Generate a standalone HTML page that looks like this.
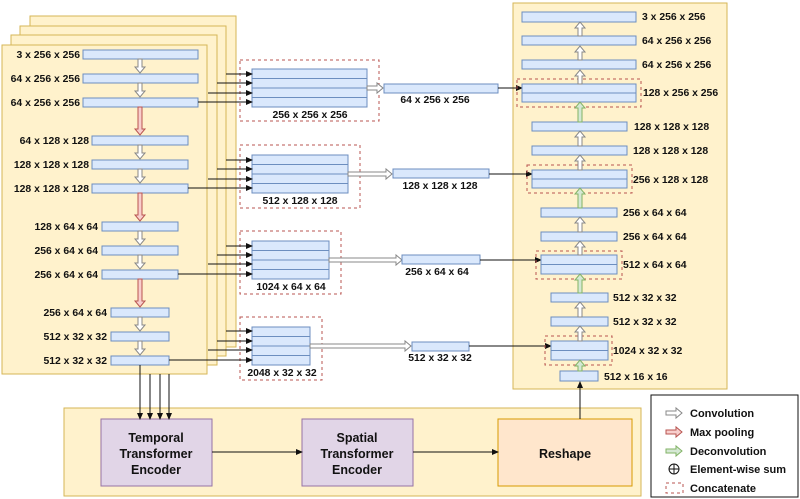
<!DOCTYPE html>
<html><head><meta charset="utf-8"><style>
html,body{margin:0;padding:0;background:#fff;}
svg{display:block;font-family:"Liberation Sans",sans-serif;}
.l{font-size:10.4px;font-weight:bold;fill:#111;}
.p{fill:#fff2cc;stroke:#d6b656;stroke-width:1;}
.b{fill:#dae8fc;stroke:#6c8ebf;stroke-width:1;}
.d{fill:none;stroke:#b85450;stroke-width:1;stroke-dasharray:3,3;}
.c{fill:#fff;stroke:#888;stroke-width:1;}
.r{fill:#f8cecc;stroke:#b85450;stroke-width:1;}
.g{fill:#d5e8d4;stroke:#82b366;stroke-width:1;}
.k{stroke:#111;stroke-width:1;fill:none;}
</style></head><body>
<svg width="800" height="499" viewBox="0 0 800 499" xmlns="http://www.w3.org/2000/svg">
<defs><marker id="a" markerWidth="7" markerHeight="6" refX="6" refY="3" orient="auto"><path d="M0,0 L7,3 L0,6 z" fill="#111"/></marker></defs>
<rect class="p" x="30" y="16" width="206" height="331"/>
<rect class="p" x="20" y="26" width="206" height="330"/>
<rect class="p" x="11" y="35" width="206" height="330"/>
<rect class="p" x="2" y="45" width="205" height="329"/>
<rect class="b" x="83" y="50" width="115" height="9"/>
<rect class="b" x="83" y="74" width="115" height="9"/>
<rect class="b" x="83" y="98" width="115" height="9"/>
<rect class="b" x="92" y="136" width="96" height="9"/>
<rect class="b" x="92" y="160" width="96" height="9"/>
<rect class="b" x="92" y="184" width="96" height="9"/>
<rect class="b" x="102" y="222" width="76" height="9"/>
<rect class="b" x="102" y="246" width="76" height="9"/>
<rect class="b" x="102" y="270" width="76" height="9"/>
<rect class="b" x="111" y="308" width="58" height="9"/>
<rect class="b" x="111" y="332" width="58" height="9"/>
<rect class="b" x="111" y="356" width="58" height="9"/>
<g class="l" text-anchor="end">
<text x="80" y="58">3 x 256 x 256</text>
<text x="80" y="82">64 x 256 x 256</text>
<text x="80" y="106">64 x 256 x 256</text>
<text x="89" y="144">64 x 128 x 128</text>
<text x="89" y="168">128 x 128 x 128</text>
<text x="89" y="192">128 x 128 x 128</text>
<text x="98" y="230">128 x 64 x 64</text>
<text x="98" y="254">256 x 64 x 64</text>
<text x="98" y="278">256 x 64 x 64</text>
<text x="107" y="316">256 x 64 x 64</text>
<text x="107" y="340">512 x 32 x 32</text>
<text x="107" y="364">512 x 32 x 32</text>
</g>
<polygon class="c" points="138,59 142,59 142,67 145,67 140,73 135,67 138,67"/>
<polygon class="c" points="138,83 142,83 142,91 145,91 140,97 135,91 138,91"/>
<polygon class="r" points="138,107 142,107 142,129 145,129 140,135 135,129 138,129"/>
<polygon class="c" points="138,145 142,145 142,153 145,153 140,159 135,153 138,153"/>
<polygon class="c" points="138,169 142,169 142,177 145,177 140,183 135,177 138,177"/>
<polygon class="r" points="138,193 142,193 142,215 145,215 140,221 135,215 138,215"/>
<polygon class="c" points="138,231 142,231 142,239 145,239 140,245 135,239 138,239"/>
<polygon class="c" points="138,255 142,255 142,263 145,263 140,269 135,263 138,263"/>
<polygon class="r" points="138,279 142,279 142,301 145,301 140,307 135,301 138,301"/>
<polygon class="c" points="138,317 142,317 142,325 145,325 140,331 135,325 138,325"/>
<polygon class="c" points="138,341 142,341 142,349 145,349 140,355 135,349 138,349"/>
<rect class="d" x="240" y="60" width="139" height="61"/>
<rect class="b" x="252" y="69" width="115" height="38"/>
<path d="M252,78.5H367M252,88H367M252,97.5H367" stroke="#6c8ebf"/>
<text class="l" x="310" y="118" text-anchor="middle">256 x 256 x 256</text>
<rect class="d" x="240" y="145" width="120" height="63"/>
<rect class="b" x="252" y="155" width="96" height="38"/>
<path d="M252,164.5H348M252,174H348M252,183.5H348" stroke="#6c8ebf"/>
<text class="l" x="300" y="204" text-anchor="middle">512 x 128 x 128</text>
<rect class="d" x="240" y="231" width="101" height="63"/>
<rect class="b" x="252" y="241" width="77" height="38"/>
<path d="M252,250.5H329M252,260H329M252,269.5H329" stroke="#6c8ebf"/>
<text class="l" x="291" y="290" text-anchor="middle">1024 x 64 x 64</text>
<rect class="d" x="240" y="317" width="82" height="63"/>
<rect class="b" x="252" y="327" width="58" height="38"/>
<path d="M252,336.5H310M252,346H310M252,355.5H310" stroke="#6c8ebf"/>
<text class="l" x="282" y="376" text-anchor="middle">2048 x 32 x 32</text>
<g class="k" marker-end="url(#a)">
<path d="M226,74H252"/><path d="M217,83H252"/><path d="M208,93H252"/><path d="M198,102H252"/>
<path d="M226,160H252"/><path d="M217,169H252"/><path d="M208,179H252"/><path d="M188,188H252"/>
<path d="M226,246H252"/><path d="M217,255H252"/><path d="M208,264H252"/><path d="M178,274H252"/>
<path d="M226,331H252"/><path d="M217,341H252"/><path d="M208,350H252"/><path d="M169,360H252"/>
</g>
<polygon class="c" points="367,86 377,86 377,83 383,88 377,93 377,90 367,90"/>
<polygon class="c" points="348,172 386,172 386,169 392,174 386,179 386,176 348,176"/>
<polygon class="c" points="329,258 396,258 396,255 402,260 396,265 396,262 329,262"/>
<polygon class="c" points="310,344 405,344 405,341 411,346 405,351 405,348 310,348"/>
<rect class="b" x="384" y="84" width="114" height="9"/>
<text class="l" x="435" y="103" text-anchor="middle">64 x 256 x 256</text>
<rect class="b" x="393" y="169" width="96" height="9"/>
<text class="l" x="440" y="189" text-anchor="middle">128 x 128 x 128</text>
<rect class="b" x="402" y="255" width="78" height="9"/>
<text class="l" x="437" y="275" text-anchor="middle">256 x 64 x 64</text>
<rect class="b" x="412" y="342" width="57" height="9"/>
<text class="l" x="440" y="361" text-anchor="middle">512 x 32 x 32</text>
<rect class="p" x="513" y="3" width="214" height="386"/>
<g class="k" marker-end="url(#a)">
<path d="M498,88H522"/><path d="M489,174H532"/><path d="M480,260H541"/><path d="M469,346H551"/>
</g>
<rect class="b" x="522" y="12" width="114" height="10"/>
<rect class="b" x="522" y="36" width="114" height="9"/>
<rect class="b" x="522" y="60" width="114" height="9"/>
<rect class="d" x="517" y="79" width="124" height="28"/>
<rect class="b" x="522" y="84" width="114" height="18"/><path d="M522,93H636" stroke="#6c8ebf"/>
<rect class="b" x="532" y="122" width="95" height="9"/>
<rect class="b" x="532" y="146" width="95" height="9"/>
<rect class="d" x="527" y="165" width="105" height="28"/>
<rect class="b" x="532" y="170" width="95" height="18"/><path d="M532,179H627" stroke="#6c8ebf"/>
<rect class="b" x="541" y="208" width="76" height="9"/>
<rect class="b" x="541" y="232" width="76" height="9"/>
<rect class="d" x="536" y="251" width="86" height="28"/>
<rect class="b" x="541" y="255" width="76" height="19"/><path d="M541,264.5H617" stroke="#6c8ebf"/>
<rect class="b" x="551" y="293" width="57" height="9"/>
<rect class="b" x="551" y="317" width="57" height="9"/>
<rect class="d" x="545" y="336" width="67" height="29"/>
<rect class="b" x="551" y="341" width="57" height="19"/><path d="M551,350.5H608" stroke="#6c8ebf"/>
<rect class="b" x="560" y="371" width="38" height="10"/>
<g class="l">
<text x="642" y="20">3 x 256 x 256</text>
<text x="642" y="44">64 x 256 x 256</text>
<text x="642" y="68">64 x 256 x 256</text>
<text x="643" y="96">128 x 256 x 256</text>
<text x="634" y="130">128 x 128 x 128</text>
<text x="633" y="154">128 x 128 x 128</text>
<text x="633" y="183">256 x 128 x 128</text>
<text x="623" y="216">256 x 64 x 64</text>
<text x="623" y="240">256 x 64 x 64</text>
<text x="623" y="268">512 x 64 x 64</text>
<text x="613" y="301">512 x 32 x 32</text>
<text x="613" y="325">512 x 32 x 32</text>
<text x="613" y="354">1024 x 32 x 32</text>
<text x="604" y="380">512 x 16 x 16</text>
</g>
<polygon class="c" points="578,36 582,36 582,28 585,28 580,22 575,28 578,28"/>
<polygon class="c" points="578,60 582,60 582,52 585,52 580,46 575,52 578,52"/>
<polygon class="c" points="578,84 582,84 582,76 585,76 580,70 575,76 578,76"/>
<polygon class="g" points="578,122 582,122 582,108 585,108 580,102 575,108 578,108"/>
<polygon class="c" points="578,146 582,146 582,137 585,137 580,131 575,137 578,137"/>
<polygon class="c" points="578,170 582,170 582,161 585,161 580,155 575,161 578,161"/>
<polygon class="g" points="578,208 582,208 582,194 585,194 580,188 575,194 578,194"/>
<polygon class="c" points="578,232 582,232 582,223 585,223 580,217 575,223 578,223"/>
<polygon class="c" points="578,255 582,255 582,247 585,247 580,241 575,247 578,247"/>
<polygon class="g" points="578,293 582,293 582,280 585,280 580,274 575,280 578,280"/>
<polygon class="c" points="578,317 582,317 582,308 585,308 580,302 575,308 578,308"/>
<polygon class="c" points="578,341 582,341 582,332 585,332 580,326 575,332 578,332"/>
<polygon class="g" points="578,371 582,371 582,366 585,366 580,360 575,366 578,366"/>
<rect class="p" x="64" y="408" width="577" height="88"/>
<rect x="101" y="419" width="111" height="67" fill="#e1d5e7" stroke="#9673a6"/>
<rect x="302" y="419" width="111" height="67" fill="#e1d5e7" stroke="#9673a6"/>
<rect x="498" y="419" width="134" height="67" fill="#ffe6cc" stroke="#d79b00"/>
<g font-size="12.5" font-weight="bold" fill="#111" text-anchor="middle">
<text x="156" y="442">Temporal</text><text x="156" y="458">Transformer</text><text x="156" y="474">Encoder</text>
<text x="357" y="442">Spatial</text><text x="357" y="458">Transformer</text><text x="357" y="474">Encoder</text>
<text x="565" y="458">Reshape</text>
</g>
<g class="k" marker-end="url(#a)">
<path d="M140,365V419"/><path d="M150,374V419"/><path d="M160,374V419"/><path d="M169,374V419"/>
<path d="M212,452H302"/><path d="M413,452H498"/><path d="M580,419V382"/>
</g>
<rect x="651" y="395" width="147" height="102" fill="#fff" stroke="#111"/>
<polygon class="c" points="666,411 676,411 676,408 682,413 676,418 676,415 666,415"/>
<polygon class="r" points="666,430 676,430 676,427 682,432 676,437 676,434 666,434"/>
<polygon class="g" points="666,449 676,449 676,446 682,451 676,456 676,453 666,453"/>
<circle cx="674" cy="469" r="5" fill="none" stroke="#111"/><path d="M669,469H679M674,464V474" stroke="#111"/>
<rect x="666" y="483" width="17" height="10" class="d"/>
<g font-size="11" font-weight="bold" fill="#111">
<text x="690" y="417">Convolution</text>
<text x="690" y="436">Max pooling</text>
<text x="690" y="455">Deconvolution</text>
<text x="690" y="473">Element-wise sum</text>
<text x="690" y="492">Concatenate</text>
</g>
</svg>
</body></html>
